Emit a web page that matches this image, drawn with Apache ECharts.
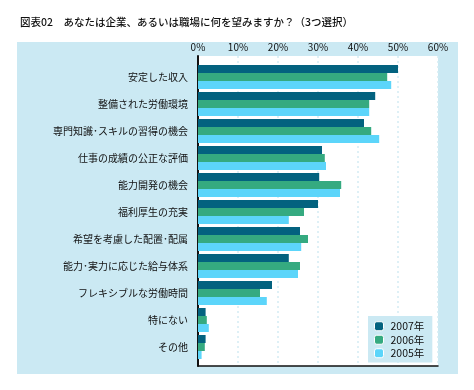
<!DOCTYPE html>
<html><head><meta charset="utf-8">
<script src="https://cdn.jsdelivr.net/npm/echarts@6/dist/echarts.min.js"></script>
<style>html,body{margin:0;padding:0;background:#fff}#c{width:474px;height:390px}</style>
</head><body><div id="c"></div>
<script>
const categories = ['安定した収入','整備された労働環境','専門知識･スキルの習得の機会','仕事の成績の公正な評価','能力開発の機会','福利厚生の充実','希望を考慮した配置･配属','能力･実力に応じた給与体系','フレキシブルな労働時間','特にない','その他'];
const seriesNames = ['2007年','2006年','2005年'];
const v2007 = [50.0,44.3,41.5,31.0,30.3,30.0,25.5,22.7,18.5,1.9,1.9];
const v2006 = [47.3,42.8,43.3,31.7,35.8,26.5,27.5,25.5,15.5,2.2,1.7];
const v2005 = [48.3,42.8,45.3,32.0,35.5,22.7,25.8,25.0,17.2,2.7,0.9];
const colors = ['#03627f','#35aa80','#5cd5fa'];
const FONT = "'Noto Sans CJK JP', sans-serif";

const chart = echarts.init(document.getElementById('c'), null, {renderer:'canvas'});
chart.setOption({
  animation:false,
  backgroundColor:'#fff',
  textStyle:{fontFamily:FONT},
  title:{text:'図表02　あなたは企業、あるいは職場に何を望みますか？（3つ選択）',left:15,top:12,
    textStyle:{fontSize:10.5,fontWeight:500,color:'#111',fontFamily:FONT}},
  graphic:[{type:'rect',shape:{x:17,y:42,width:441,height:332},style:{fill:'#cbe9f3'},z:-10,silent:true}],
  grid:[
    {left:198,top:56,width:240,height:310,show:true,backgroundColor:'#fff',borderWidth:0,z:0},
    {left:198,top:63.5,width:240,height:297,show:false}
  ],
  xAxis:[
    {gridIndex:0,type:'value',position:'top',min:0,max:60,interval:10,
      axisLine:{show:true,lineStyle:{color:'#111',width:1.5}},axisTick:{show:false},
      axisLabel:{formatter:'{value}%',fontSize:10,color:'#111',margin:4,fontFamily:FONT},
      splitLine:{show:true,lineStyle:{color:'#d3ecf4',width:1.5,type:[2,3]}}},
    {gridIndex:1,type:'value',min:0,max:60,show:false}
  ],
  yAxis:[
    {gridIndex:0,type:'value',min:0,max:1,axisLine:{show:true,lineStyle:{color:'#111',width:2}},
      axisTick:{show:false},axisLabel:{show:false},splitLine:{show:false}},
    {gridIndex:1,type:'category',data:categories,inverse:true,
      axisLine:{show:false},axisTick:{show:false},
      axisLabel:{fontSize:10,color:'#111',margin:10,fontFamily:FONT}}
  ],
  legend:{data:seriesNames,orient:'vertical',left:368,top:316,backgroundColor:'#cbe9f3',
    padding:[5,8,4,6],itemWidth:9,itemHeight:9,itemGap:3,
    itemStyle:{borderColor:'#fff',borderWidth:1},
    textStyle:{fontSize:10.5,color:'#111',fontFamily:FONT,padding:[0,0,0,2]}},
  series:[
    {name:seriesNames[0],type:'bar',xAxisIndex:1,yAxisIndex:1,data:v2007,barWidth:8,barGap:'0%',itemStyle:{color:colors[0]},z:3},
    {name:seriesNames[1],type:'bar',xAxisIndex:1,yAxisIndex:1,data:v2006,barWidth:8,barGap:'0%',itemStyle:{color:colors[1]},z:3},
    {name:seriesNames[2],type:'bar',xAxisIndex:1,yAxisIndex:1,data:v2005,barWidth:8,barGap:'0%',itemStyle:{color:colors[2]},z:3}
  ]
});
</script></body></html>
